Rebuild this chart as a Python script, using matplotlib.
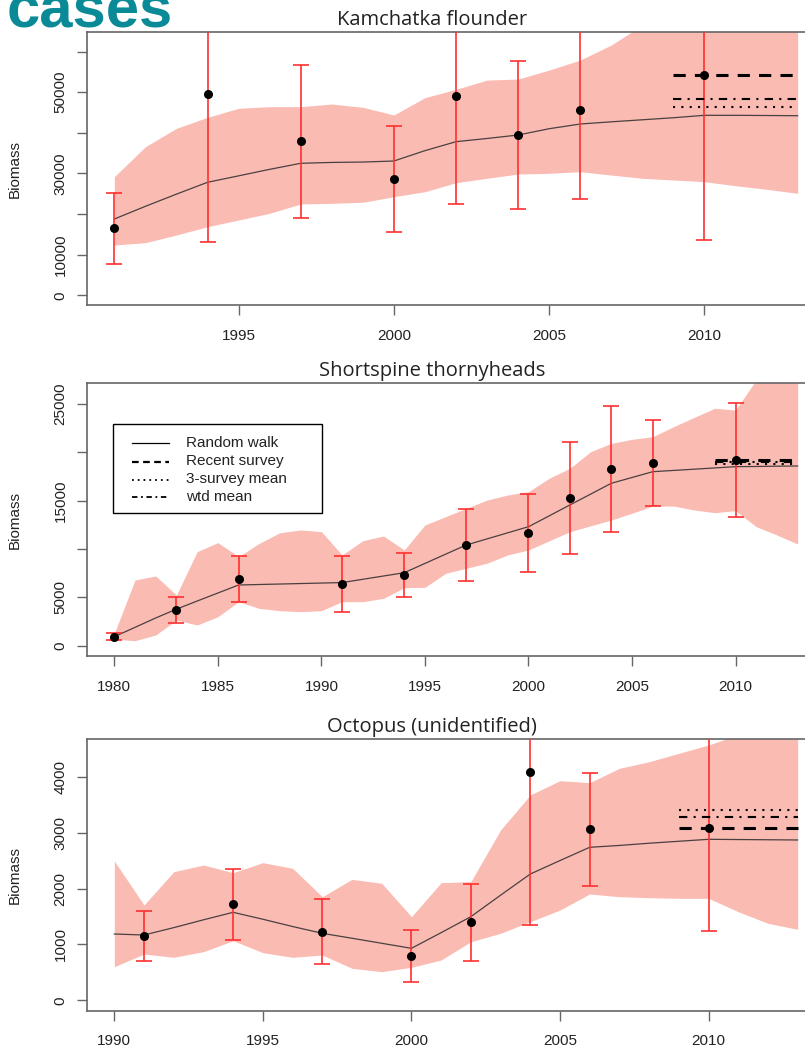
import numpy as np
import matplotlib.pyplot as plt
from matplotlib.patches import Rectangle

# --- Kamchatka flounder ---
kf_years = np.arange(1991, 2014)
kf_rw = [18780, 21900, 24900, 27810, 29400, 31000, 32490, 32700, 32800, 33050,
         35600, 37810, 38600, 39450, 41000, 42160, 42700, 43200, 43700, 44300,
         44300, 44250, 44200]
kf_upper = [29190, 36570, 41100, 43800, 46020, 46420, 46420, 47080, 46270, 44380,
            48640, 50690, 52970, 53220, 55440, 57900, 61600, 66500, 69000, 71000,
            73000, 75000, 77000]
kf_lower = [12380, 12950, 14840, 16880, 18530, 20180, 22470, 22640, 22890, 24270,
            25500, 27710, 28800, 29850, 30020, 30420, 29600, 28800, 28380, 27960,
            26970, 26090, 25100]
kf_svy_years = [1991, 1994, 1997, 2000, 2002, 2004, 2006, 2010]
kf_obs = [16490, 49470, 37900, 28620, 49130, 39450, 45680, 54150]
kf_err = [8780, 36430, 18800, 13080, 26730, 18100, 21900, 40540]
kf_recent, kf_mean3, kf_wtd = 54150, 46420, 48310

# --- Shortspine thornyheads ---
st_years = np.arange(1980, 2014)
st_rw = [930, 1900, 2870, 3780, 4620, 5450, 6280, 6330, 6380, 6430,
         6480, 6530, 6870, 7210, 7550, 8510, 9470, 10420, 11050, 11680,
         12310, 13430, 14560, 15680, 16800, 17400, 18000, 18130, 18260, 18390,
         18520, 18540, 18570, 18590]
st_upper = [1280, 6800, 7210, 5240, 9730, 10660, 9210, 10590, 11690, 11970,
            11800, 9380, 10860, 11350, 9900, 12490, 13350, 14210, 15070, 15590,
            15930, 17320, 18350, 20070, 20930, 21350, 21620, 22650, 23620, 24560,
            24380, 27500, 30500, 33500]
st_lower = [660, 520, 1110, 2660, 2140, 3000, 4550, 3860, 3620, 3520,
            3620, 4550, 4550, 4900, 6000, 6040, 7490, 8010, 8530, 9390,
            9900, 10850, 11790, 12400, 13000, 13700, 14450, 14450, 14040, 13760,
            13970, 12310, 11450, 10520]
st_svy_years = [1980, 1983, 1986, 1991, 1994, 1997, 2000, 2002, 2004, 2006, 2010]
st_obs = [930, 3660, 6900, 6350, 7310, 10450, 11690, 15280, 18280, 18900, 19210]
st_err = [340, 1340, 2360, 2880, 2275, 3725, 4020, 5815, 6520, 4400, 5900]
st_recent, st_mean3, st_wtd = 19210, 18800, 19000

# --- Octopus ---
oc_years = np.arange(1990, 2014)
oc_rw = [1186, 1168, 1300, 1440, 1574, 1450, 1320, 1198, 1110, 1020,
         930, 1210, 1496, 1880, 2259, 2500, 2737, 2770, 2810, 2845,
         2880, 2876, 2872, 2868]
oc_upper = [2492, 1705, 2300, 2420, 2283, 2462, 2361, 1853, 2164, 2093,
            1496, 2104, 2122, 3047, 3673, 3929, 3893, 4150, 4268, 4418,
            4567, 4750, 4900, 5050]
oc_lower = [601, 828, 769, 870, 1066, 852, 769, 810, 572, 512,
            590, 721, 1048, 1199, 1406, 1615, 1902, 1853, 1835, 1824,
            1824, 1585, 1377, 1270]
oc_svy_years = [1991, 1994, 1997, 2000, 2002, 2004, 2006, 2010]
oc_obs = [1156, 1717, 1227, 792, 1395, 4090, 3059, 3077]
oc_err = [445, 640, 580, 460, 685, 2743, 1013, 1837]
oc_recent, oc_mean3, oc_wtd = 3077, 3400, 3274

ref_start, ref_end = 2009, 2013

legend_labels = ["Random walk", "Recent survey", "3-survey mean", "wtd mean"]

SHADE = "#fabbb3"
ERR = "#ff3030"
AXCOL = "#666666"
TXT = "#222222"
TICKFONT = "Liberation Sans"

DASHED = dict(color="black", lw=2.2, dashes=(4, 3))
DOTTED = dict(color="black", lw=1.5, dashes=(1, 3))
DOTDASH = dict(color="black", lw=1.5, dashes=(4, 3, 1, 3))


def panel(ax, title, years, rw, lo, hi, sy, obs, err, recent, mean3, wtd,
          xlim, ylim, yticks, ylabels, xticks):
    ax.fill_between(years, lo, hi, color=SHADE, lw=0, zorder=1)
    ax.plot(years, rw, color="#4a4040", lw=0.9, zorder=2)
    ax.errorbar(sy, obs, yerr=err, fmt="none", ecolor=ERR, elinewidth=1.2,
                capsize=5.5, capthick=1.2, zorder=3)
    ax.plot(sy, obs, "o", color="black", ms=5.5, zorder=5)
    ax.plot([ref_start, ref_end], [recent, recent], zorder=4, **DASHED)
    ax.plot([ref_start, ref_end], [mean3, mean3], zorder=4, **DOTTED)
    ax.plot([ref_start, ref_end], [wtd, wtd], zorder=4, **DOTDASH)

    ax.set_xlim(*xlim)
    ax.set_ylim(*ylim)
    ax.set_xticks(xticks)
    ax.set_xticklabels([str(t) for t in xticks], family=TICKFONT,
                       fontsize=11, color=TXT)
    ax.set_yticks(yticks)
    ax.set_yticklabels(ylabels, family=TICKFONT, fontsize=11, color=TXT,
                       rotation=90, va="center")
    ax.tick_params(axis="x", length=7, width=1, color=AXCOL, pad=10)
    ax.tick_params(axis="y", length=7, width=1, color=AXCOL, pad=7)
    for s in ax.spines.values():
        s.set_color(AXCOL)
        s.set_linewidth(1.2)
    ax.set_ylabel("Biomass", family=TICKFONT, fontsize=11, color=TXT)
    ax.yaxis.set_label_coords(-0.089, 0.5)
    ax.text(0.468, 1.027, title, transform=ax.transAxes, ha="center",
            va="baseline", fontsize=14.5, family="Open Sans", color="#222222")


def box_legend(ax, x0, y0, x1, y1, rows):
    # legend box in pixel coordinates of the figure, drawn on the axes
    W, H = fig.bbox.width, fig.bbox.height
    tr = fig.transFigure
    ax.add_patch(Rectangle((x0 / W, 1 - y1 / H), (x1 - x0) / W, (y1 - y0) / H,
                           transform=tr, facecolor="white", edgecolor="black",
                           lw=1.0, zorder=6, clip_on=False))
    styles = [dict(color="black", lw=0.9),
              dict(color="black", lw=1.6, dashes=(3, 2)),
              dict(color="black", lw=1.3, dashes=(1, 2.2)),
              dict(color="black", lw=1.3, dashes=(3, 2, 1, 2))]
    for (label, yc), st in zip(rows, styles):
        ax.plot([131.5 / W, 168.5 / W], [1 - yc / H] * 2, transform=tr,
                zorder=7, clip_on=False, **st)
        ax.text(186.5 / W, 1 - yc / H, label, transform=tr, va="center",
                ha="left", family=TICKFONT, fontsize=11, color=TXT, zorder=7)


fig = plt.figure(figsize=(8.05, 10.5), dpi=100)
W, H = 805.0, 1050.0
ax1 = fig.add_axes([87 / W, 1 - 305 / H, 738 / W, 273 / H])
ax2 = fig.add_axes([87 / W, 1 - 656 / H, 738 / W, 272.7 / H])
ax3 = fig.add_axes([87 / W, 1 - 1010.7 / H, 738 / W, 271.4 / H])

panel(ax1, "Kamchatka flounder", kf_years, kf_rw, kf_lower, kf_upper,
      kf_svy_years, kf_obs, kf_err, kf_recent, kf_mean3, kf_wtd,
      (1990.12, 2013.88), (-2387, 64805),
      [0, 10000, 20000, 30000, 40000, 50000, 60000],
      ["0", "10000", "", "30000", "", "50000", ""],
      [1995, 2000, 2005, 2010])

panel(ax2, "Shortspine thornyheads", st_years, st_rw, st_lower, st_upper,
      st_svy_years, st_obs, st_err, st_recent, st_mean3, st_wtd,
      (1978.68, 2014.32), (-1066, 27145),
      [0, 5000, 10000, 15000, 20000, 25000],
      ["0", "5000", "", "15000", "", "25000"],
      [1980, 1985, 1990, 1995, 2000, 2005, 2010])

panel(ax3, "Octopus (unidentified)", oc_years, oc_rw, oc_lower, oc_upper,
      oc_svy_years, oc_obs, oc_err, oc_recent, oc_mean3, oc_wtd,
      (1989.08, 2013.92), (-186, 4669),
      [0, 1000, 2000, 3000, 4000],
      ["0", "1000", "2000", "3000", "4000"],
      [1990, 1995, 2000, 2005, 2010])

box_legend(ax2, 113, 424, 322, 513,
           list(zip(legend_labels, [443.5, 461.5, 479.5, 497])))

fig.text(7 / W, 1 - 27 / H, "cases", fontsize=43, fontweight="bold",
         family="Liberation Sans", color="#0a8a96", va="baseline", ha="left")

fig.savefig("out.png", dpi=100)
